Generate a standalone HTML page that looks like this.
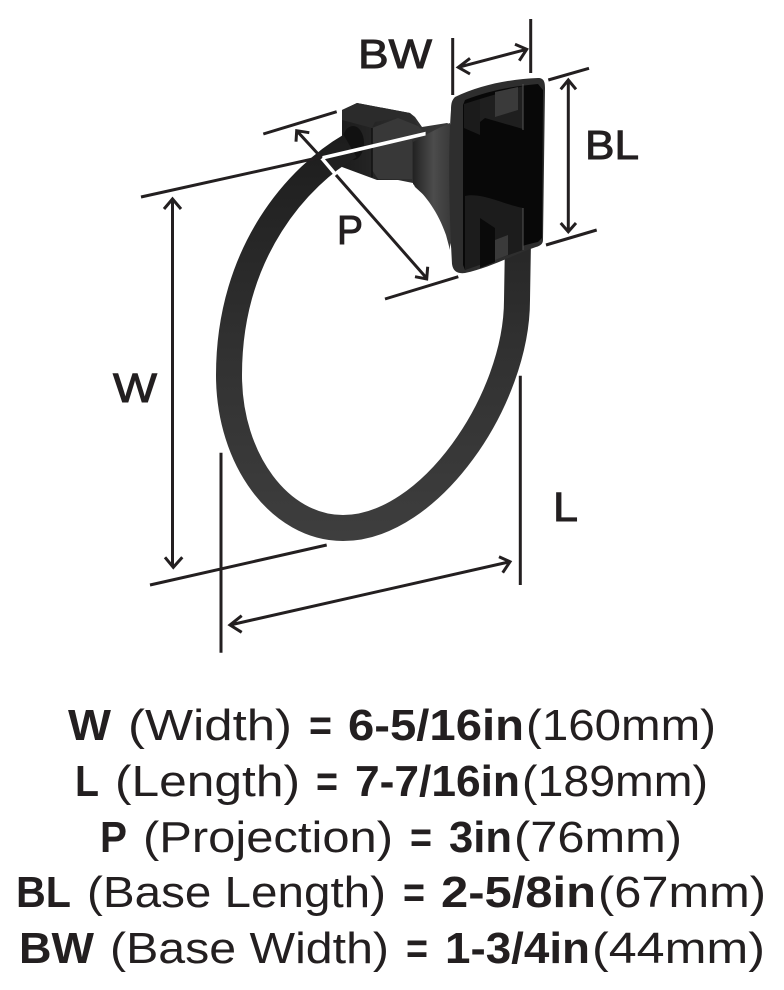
<!DOCTYPE html>
<html><head><meta charset="utf-8"><style>
html,body{margin:0;padding:0;background:#fff}
svg{display:block}
text{font-family:"Liberation Sans",sans-serif;fill:#231f20;font-size:44px}
.b{font-weight:bold}
.l{font-size:41px;stroke:#231f20;stroke-width:1}
</style></head><body>
<svg width="784" height="990" viewBox="0 0 784 990" xmlns="http://www.w3.org/2000/svg">
<defs>
<linearGradient id="n" x1="0" y1="0" x2="1" y2="0"><stop offset="0" stop-color="#222"/><stop offset=".55" stop-color="#4c4c4c"/><stop offset="1" stop-color="#3a3a3a"/></linearGradient>
<linearGradient id="bk" x1="0" y1="0" x2="1" y2="0"><stop offset="0" stop-color="#1c1c1c"/><stop offset="1" stop-color="#3a3a3a"/></linearGradient>
<linearGradient id="rg" gradientUnits="userSpaceOnUse" x1="0" y1="140" x2="0" y2="540"><stop offset="0" stop-color="#1d1d1d"/><stop offset=".5" stop-color="#303030"/><stop offset="1" stop-color="#3e3e3e"/></linearGradient>
</defs>
<!-- bracket block -->
<path d="M342 110L357 103L410 113L415 117L422 127L447 123L452 125V250L450 243L437 207L415 187L413 183L398 180H377L342 167Z" fill="url(#bk)"/>
<path d="M342 110L357 103L410 113L418 126L398 118L375 122L372 128L342 120Z" fill="#2b2b2b"/>
<path d="M372 128L398 118L418 126L422 130L412 140V179H378L372 170Z" fill="#383838"/>
<path d="M372 128V177" stroke="#111" stroke-width="1.500"/>
<ellipse cx="353" cy="143" rx="11" ry="17" fill="#111"/>
<path d="M413 142C425 135 438 128 450 123V250L446 235C438 212 426 196 413 184Z" fill="url(#n)"/>
<!-- ring -->
<path d="M350 146C300 175 229 250 229 375C229 460 280 528 343 528C430 528 517 400 517 300L518 240" fill="none" stroke="url(#rg)" stroke-width="26"/>
<!-- plate -->
<path d="M455 97C480 85 510 79 538 78C544 78 545 82 545 88L543 240C543 244 540 246 536 247C515 254 490 268 465 273C457 274 453 271 452 264C449 210 448 150 451 110C451 103 452 100 455 97Z" fill="#2e2e2e"/>
<path d="M465 100C490 90 515 86 538 84L543 90L542 238L538 242C510 248 490 258 465 270L463 265V105Z" fill="#080808"/>
<path d="M480 99V135L464 128V104Z" fill="#1b1b1b"/>
<path d="M480 99L523 86V129L485 118L480 122Z" fill="#1f1f1f"/>
<path d="M495 92V117L518 110V87Z" fill="#3a3a3a"/>
<path d="M465 196C482 192 505 205 523 208V250L500 258L465 270Z" fill="#1c1c1c"/>
<path d="M480 218L495 228V262L480 268Z" fill="#0a0a0a"/>
<path d="M495 240L508 235V255L495 260Z" fill="#3a3a3a"/>
<path d="M523 208V250" stroke="#555" stroke-width="1"/>
<path d="M523 84V130" stroke="#555" stroke-width="1"/>
<!-- white gap lines -->
<path d="M321 157L425 132.500L425 135L323 159Z" fill="#fff" stroke="#fff" stroke-width="1.200"/>
<path d="M321.700 158L336 175" stroke="#fff" stroke-width="3.500" fill="none"/>
<!-- dimension lines -->
<g fill="none" stroke="#231f20" stroke-width="3">
<path d="M452.700 38V95M530.700 19V73"/>
<path d="M458.300 67.300L526.700 49.300M470 58.300L458.300 67.300L470 74M515 44.300L526.700 49.300L519.300 60.700"/>
<path d="M548.300 80L589 68.300M546 245L596.700 230"/>
<path d="M568.300 80V231.700M560.700 89.300L568.300 80L576 89.300M560.700 223L568.300 231.700L576 223"/>
<path d="M263.300 134L336.700 111.700M385 299L458.300 276.700"/>
<path d="M296.700 130.700L321.700 158M336 175L426.700 278.300M296 141.700L296.700 130.700L309.300 132.700M427.700 266.700L426.700 279L415 276.700"/>
<path d="M141 197L321.700 157"/>
<path d="M172.500 200V567M164 209L172.500 199L181 209M165 557.300L173.300 567.300L182.300 557.300"/>
<path d="M150 585L326.700 545M221 452.700V652.700M520.300 375.700V585"/>
<path d="M230 625L510 561.700M241.700 615.700L230 625L241.700 632.300M499 556.700L510 561.700L502.700 572.700"/>
</g>
<!-- diagram labels -->
<text class="l" x="358" y="68" textLength="74" lengthAdjust="spacingAndGlyphs">BW</text>
<text class="l" x="585" y="159" textLength="54" lengthAdjust="spacingAndGlyphs">BL</text>
<text class="l" x="337" y="244" textLength="26" lengthAdjust="spacingAndGlyphs">P</text>
<text class="l" x="113" y="402" textLength="44" lengthAdjust="spacingAndGlyphs">W</text>
<text class="l" x="553" y="521" textLength="25" lengthAdjust="spacingAndGlyphs">L</text>
<!-- spec rows -->
<g>
<text class="b" x="68" y="740" textLength="43" lengthAdjust="spacingAndGlyphs">W</text>
<text x="128" y="740" textLength="164" lengthAdjust="spacingAndGlyphs">(Width)</text>
<text class="b" x="309" y="740" textLength="23" lengthAdjust="spacingAndGlyphs">=</text>
<text class="b" x="348" y="740" textLength="176" lengthAdjust="spacingAndGlyphs">6-5/16in</text>
<text x="526" y="740" textLength="190" lengthAdjust="spacingAndGlyphs">(160mm)</text>

<text class="b" x="75" y="796" textLength="24" lengthAdjust="spacingAndGlyphs">L</text>
<text x="115" y="796" textLength="185" lengthAdjust="spacingAndGlyphs">(Length)</text>
<text class="b" x="316" y="796" textLength="22" lengthAdjust="spacingAndGlyphs">=</text>
<text class="b" x="355" y="796" textLength="165" lengthAdjust="spacingAndGlyphs">7-7/16in</text>
<text x="522" y="796" textLength="186" lengthAdjust="spacingAndGlyphs">(189mm)</text>

<text class="b" x="100" y="852" textLength="27" lengthAdjust="spacingAndGlyphs">P</text>
<text x="143" y="852" textLength="250" lengthAdjust="spacingAndGlyphs">(Projection)</text>
<text class="b" x="410" y="852" textLength="22" lengthAdjust="spacingAndGlyphs">=</text>
<text class="b" x="449" y="852" textLength="63" lengthAdjust="spacingAndGlyphs">3in</text>
<text x="514" y="852" textLength="168" lengthAdjust="spacingAndGlyphs">(76mm)</text>

<text class="b" x="16" y="907" textLength="55" lengthAdjust="spacingAndGlyphs">BL</text>
<text x="87" y="907" textLength="299" lengthAdjust="spacingAndGlyphs">(Base Length)</text>
<text class="b" x="403" y="907" textLength="22" lengthAdjust="spacingAndGlyphs">=</text>
<text class="b" x="441" y="907" textLength="155" lengthAdjust="spacingAndGlyphs">2-5/8in</text>
<text x="598" y="907" textLength="168" lengthAdjust="spacingAndGlyphs">(67mm)</text>

<text class="b" x="19" y="963" textLength="75" lengthAdjust="spacingAndGlyphs">BW</text>
<text x="110" y="963" textLength="279" lengthAdjust="spacingAndGlyphs">(Base Width)</text>
<text class="b" x="406" y="963" textLength="22" lengthAdjust="spacingAndGlyphs">=</text>
<text class="b" x="445" y="963" textLength="145" lengthAdjust="spacingAndGlyphs">1-3/4in</text>
<text x="592" y="963" textLength="173" lengthAdjust="spacingAndGlyphs">(44mm)</text>
</g>
</svg>
</body></html>
